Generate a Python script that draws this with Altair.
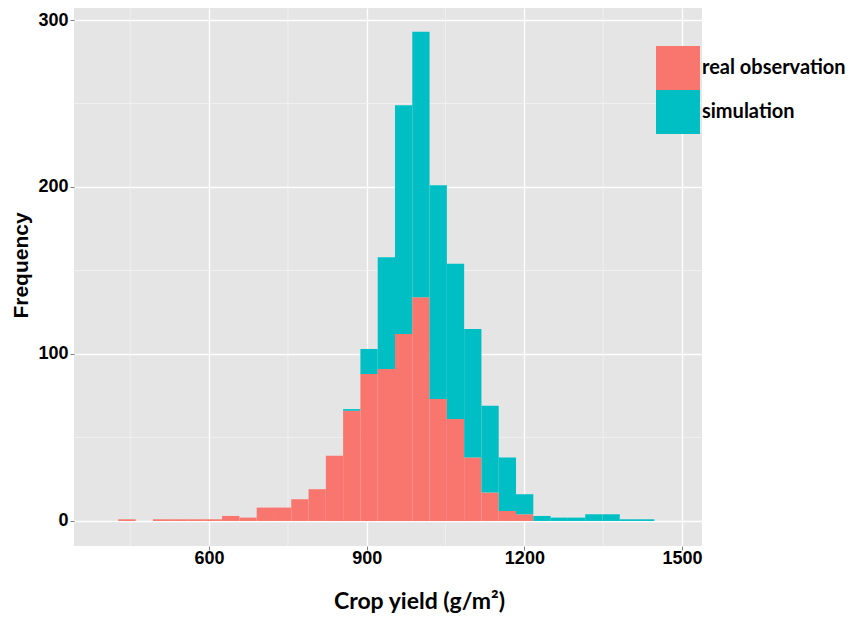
import altair as alt
import pandas as pd

# Histogram bin edges (g/m2)
bin_edges = [427.4, 460.3, 493.2, 526.1, 559.0, 591.9, 624.8, 657.7, 690.6, 723.5,
             756.4, 789.3, 822.2, 855.1, 888.0, 920.9, 953.8, 986.7, 1019.6, 1052.5,
             1085.4, 1118.3, 1151.2, 1184.1, 1217.0, 1249.9, 1282.8, 1315.7, 1348.6,
             1381.5, 1414.4, 1447.3]

real_counts = [1, 0, 1, 1, 1, 1, 3, 2, 8, 8, 13, 19, 39, 66, 88, 91, 112, 134, 73, 61,
               38, 17, 6, 4, 0, 0, 0, 0, 0, 0, 0]
sim_counts = [0, 0, 0, 0, 0, 0, 0, 0, 0, 0, 0, 0, 0, 1, 15, 67, 137, 159, 128, 93,
              77, 52, 32, 12, 3, 2, 2, 4, 4, 1, 1]

series_names = ["real observation", "simulation"]
series_colors = ["#F8766D", "#00BFC4"]

x_ticks = [600, 900, 1200, 1500]
x_minor = [450, 750, 1050, 1350]
y_ticks = [0, 100, 200, 300]
y_minor = [50, 150, 250]

rows = []
for i in range(len(real_counts)):
    for order, (name, counts) in enumerate(zip(series_names, [real_counts, sim_counts])):
        rows.append({"bin_start": bin_edges[i], "bin_end": bin_edges[i + 1],
                     "series": name, "count": counts[i], "order": order})
df = pd.DataFrame(rows)

xscale = alt.Scale(domain=[343, 1538], nice=False, zero=False)
yscale = alt.Scale(domain=[-15, 307.2], nice=False, zero=False)

x_axis = alt.Axis(values=x_ticks, format="d", title="Crop yield (g/m²)", grid=True,
                  gridColor="white", gridWidth=1.3, domain=False,
                  tickColor="#7F7F7F", tickSize=4, tickWidth=1,
                  labelFont="Liberation Sans", labelFontWeight="bold",
                  labelFontSize=18, labelColor="black", labelPadding=-1,
                  titleFont="Lato", titleFontWeight="bold", titleFontSize=23,
                  titleColor="black", titleX=345, titleY=55,
                  titleBaseline="middle", titleAlign="center")
y_axis = alt.Axis(values=y_ticks, format="d", title="Frequency", grid=True,
                  gridColor="white", gridWidth=1.3, domain=False,
                  tickColor="#7F7F7F", tickSize=4, tickWidth=1,
                  labelFont="Liberation Sans", labelFontWeight="bold",
                  labelFontSize=18, labelColor="black", labelPadding=2,
                  titleFont="Liberation Sans", titleFontWeight="bold",
                  titleFontSize=21, titleColor="black", titleX=-53,
                  titleY=257, titleBaseline="middle", titleAlign="center",
                  titleAngle=270)

minor_x = alt.Chart(pd.DataFrame({"v": x_minor})).mark_rule(
    color="#F2F2F2", strokeWidth=0.8).encode(
    x=alt.X("v:Q", scale=xscale, axis=x_axis, title="Crop yield (g/m²)"))
minor_y = alt.Chart(pd.DataFrame({"v": y_minor})).mark_rule(
    color="#F2F2F2", strokeWidth=0.8).encode(
    y=alt.Y("v:Q", scale=yscale, axis=y_axis, title="Frequency"))

bars = alt.Chart(df).transform_stack(
    stack="count", groupby=["bin_start"], as_=["y0", "y1"],
    sort=[alt.SortField("order", order="ascending")]
).transform_filter("datum.count > 0").mark_rect().encode(
    x=alt.X("bin_start:Q", scale=xscale, axis=x_axis, title="Crop yield (g/m²)"),
    x2="bin_end:Q",
    y=alt.Y("y0:Q", scale=yscale, axis=y_axis, title="Frequency"),
    y2="y1:Q",
    color=alt.Color("series:N",
                    scale=alt.Scale(domain=series_names, range=series_colors),
                    legend=alt.Legend(title=None, orient="none", legendX=582,
                                      legendY=38, symbolType="square",
                                      symbolSize=1936, symbolStrokeWidth=0,
                                      symbolOpacity=1, rowPadding=0, padding=0,
                                      labelFont="Lato", labelFontWeight="bold",
                                      labelFontSize=20, labelColor="black",
                                      labelOffset=2, labelLimit=300)),
)

chart = alt.layer(minor_x, minor_y, bars).properties(
    width=628, height=538, autosize="none",
    padding={"left": 74, "top": 8, "right": 149, "bottom": 71},
    background="white",
).configure_view(fill="#E5E5E5", stroke=None)

chart.save("out.html", embed_options={"renderer": "svg", "actions": False})
